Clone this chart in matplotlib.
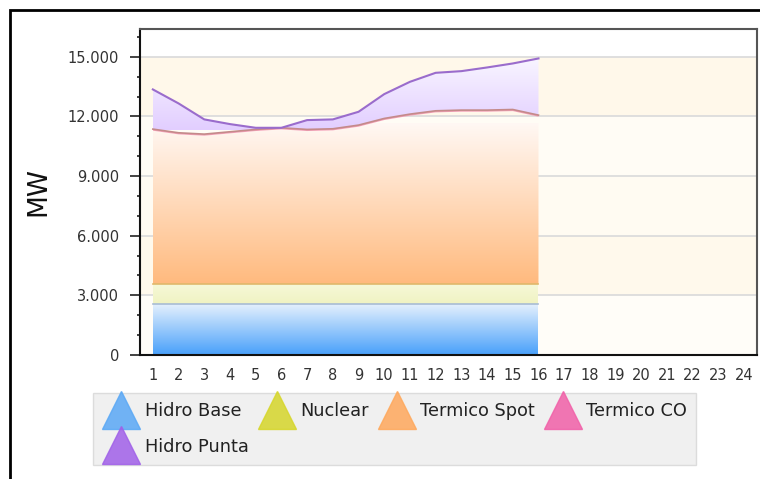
import numpy as np
import matplotlib
matplotlib.use("Agg")
import matplotlib.pyplot as plt
from matplotlib.colors import LinearSegmentedColormap
from matplotlib.lines import Line2D
from matplotlib.patches import Rectangle
from matplotlib.ticker import FuncFormatter, MultipleLocator

# ---- data ----
hours = list(range(1, 25))
hours_data = list(range(1, 17))
hidro_base = [2550] * 16
nuclear = [1000] * 16
termico_spot = [7734, 7549, 7482, 7600, 7717, 7800, 7717, 7750,
                7935, 8270, 8488, 8655, 8690, 8690, 8720, 8438]
termico_co = [80] * 16
hidro_punta = [1996, 1477, 740, 386, 83, 0, 470, 472,
               670, 1224, 1625, 1911, 1960, 2145, 2316, 2850]
series_names = ["Hidro Base", "Nuclear", "Termico Spot", "Termico CO", "Hidro Punta"]
series_colors = ["#5AA8F5", "#D6D62A", "#FFA85C", "#F060A8", "#A060E8"]
y_ticks = [0, 3000, 6000, 9000, 12000, 15000]

x = np.array(hours_data, dtype=float)
b0 = np.zeros(len(x))
b1 = b0 + np.array(hidro_base)
b2 = b1 + np.array(nuclear)
b3 = b2 + np.array(termico_spot)
b4 = b3 + np.array(termico_co)
b5 = b4 + np.array(hidro_punta)

fig = plt.figure(figsize=(7.6, 4.79), dpi=100)
ax = fig.add_axes([140 / 760, 1 - 355 / 479, 617 / 760, 326 / 479])
ax.set_xlim(0.5, 24.5)
ax.set_ylim(0, 16400)
ax.set_facecolor("#FFFFFF")

# background bands
band_cols = {0: "#FFFDF8", 3000: "#FFF9EC", 6000: "#FFFBF2", 9000: "#FFFCF5", 12000: "#FFF8EA"}
for lo, c in band_cols.items():
    ax.axhspan(lo, lo + 3000, color=c, zorder=0, lw=0)
for yt in y_ticks[1:]:
    ax.axhline(yt, color="#DCDCDC", lw=1.3, zorder=0.5)


def gradient_fill(lower, upper, c_bottom, c_top, gmin, gmax, z):
    poly = ax.fill_between(x, lower, upper, facecolor="none", edgecolor="none", zorder=z)
    cmap = LinearSegmentedColormap.from_list("g", [c_bottom, c_top])
    grad = np.linspace(0, 1, 256).reshape(-1, 1)
    im = ax.imshow(grad, extent=[x[0], x[-1], gmin, gmax], origin="lower",
                   aspect="auto", cmap=cmap, zorder=z, interpolation="bilinear")
    im.set_clip_path(poly.get_paths()[0], transform=ax.transData)


gradient_fill(b0, b1, "#48A0FA", "#E4F0FD", 0, 2550, 1)
gradient_fill(b1, b2, "#F0F3C2", "#F6F8D8", 2550, 3550, 1)
gradient_fill(b2, b3, "#FFBA7E", "#FFF8F4", 3550, 11600, 1)
gradient_fill(b3, b4, "#F4A0B8", "#F4A0B8", 11000, 12500, 1)
gradient_fill(b4, b5, "#E2CEFF", "#F9F6FF", 11300, 15000, 1)

ax.plot(x, b1, color="#A8BCD4", lw=1.2, zorder=2)
ax.plot(x, b2, color="#E0B86A", lw=1.2, zorder=2)
ax.plot(x, b4, color="#C48A8A", lw=1.2, zorder=2)
ax.plot(x, b5, color="#9A6CCC", lw=1.5, zorder=2)

ax.set_xlim(0.5, 24.5)
ax.set_ylim(0, 16400)

# axes styling
ax.set_xticks(hours)
ax.set_xticklabels([str(h) for h in hours])
ax.set_yticks(y_ticks)
ax.yaxis.set_major_formatter(FuncFormatter(lambda v, p: f"{int(v):,}".replace(",", ".")))
ax.yaxis.set_minor_locator(MultipleLocator(1000))
ax.tick_params(axis="x", length=0, labelsize=10.5, colors="#333333", pad=9)
ax.tick_params(axis="y", which="major", length=7, width=1.2, labelsize=10.5,
               labelcolor="#333333", color="#222222", pad=8)
ax.tick_params(axis="y", which="minor", length=2.5, width=1.2, color="#222222")
for s in ["top", "right"]:
    ax.spines[s].set_color("#555555")
    ax.spines[s].set_linewidth(1.5)
ax.spines["left"].set_color("#111111")
ax.spines["left"].set_linewidth(1.5)
ax.spines["bottom"].set_color("#111111")
ax.spines["bottom"].set_linewidth(1.5)
ax.set_ylabel("MW", fontsize=19, color="#111111", labelpad=12)

# legend (column-major order so row 1 holds the first four series)
order = [0, 4, 1, 2, 3]
handles = [Line2D([], [], linestyle="none", marker="^", markersize=27,
                  markerfacecolor=series_colors[i], markeredgecolor=series_colors[i],
                  alpha=0.85) for i in order]
labels = [series_names[i] for i in order]
leg = fig.legend(handles, labels, ncol=4, loc="upper left",
                 bbox_to_anchor=(93 / 760, 1 - 393 / 479),
                 fontsize=12.8, frameon=True, fancybox=False,
                 facecolor="#EDEDED", edgecolor="#D6D6D6",
                 handlelength=2.2, handletextpad=0.2, columnspacing=0.5,
                 labelspacing=1.0, borderpad=0.5, borderaxespad=0,
                 handleheight=0.7)
for t in leg.get_texts():
    t.set_color("#222222")

# outer frame
fig.patches.append(Rectangle((10 / 760, -0.1), 1.2, 1 - 10 / 479 + 0.1,
                             transform=fig.transFigure, fill=False,
                             edgecolor="black", lw=2))

fig.savefig("out.png", dpi=100)
